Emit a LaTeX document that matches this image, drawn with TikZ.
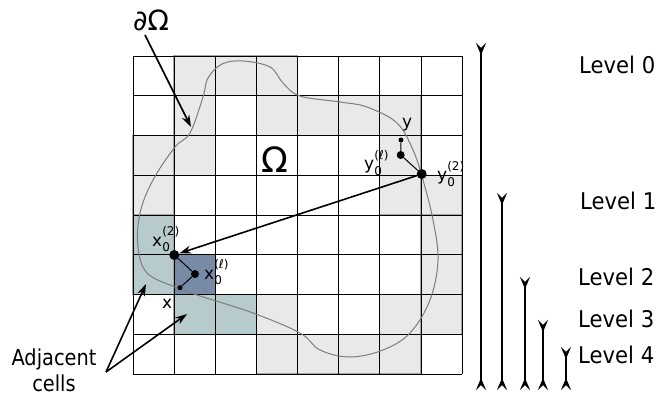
\documentclass[tikz,border=0pt]{standalone}
\usepackage{fontspec}
\setmainfont{DejaVu Sans}
\newfontfamily\condf{DejaVu Sans}[FakeStretch=0.92]
\newfontfamily\condg{DejaVu Sans}[FakeStretch=0.88]
\usetikzlibrary{arrows.meta}
\definecolor{cellgray}{RGB}{233,233,233}
\definecolor{cellborder}{RGB}{165,165,165}
\definecolor{adjcell}{RGB}{183,203,204}
\definecolor{curcell}{RGB}{120,139,166}
\definecolor{curvecol}{RGB}{125,125,125}
\newcommand\xsubsup[3]{#1\rlap{\raisebox{-0.33em}{\fontsize{12}{12}\selectfont #2}}\raisebox{0.6em}{\fontsize{12}{12}\selectfont #3}}
\tikzset{
  gridline/.style={black, line width=0.7pt},
  graycell/.style={fill=cellgray, draw=cellborder, line width=1.3pt},
  adjbox/.style={fill=adjcell, draw=cellborder, line width=1.3pt},
  curbox/.style={fill=curcell, draw=cellborder, line width=1.3pt},
  bigdot/.style={circle, fill=black, inner sep=0pt, minimum size=10pt},
  middot/.style={circle, fill=black, inner sep=0pt, minimum size=8pt},
  smalldot/.style={circle, fill=black, inner sep=0pt, minimum size=5pt},
  thinlink/.style={black, line width=1pt},
  pointer/.style={black, line width=1.6pt, -{Stealth[length=12pt,width=8pt,inset=4pt]}},
  levelbar/.style={black, line width=1.6pt, {Stealth[reversed,length=12pt,width=10pt,inset=5pt]}-{Stealth[reversed,length=12pt,width=10pt,inset=5pt]}},
  levellbl/.style={anchor=base west, inner sep=0pt, font=\condf\fontsize{23}{25}\selectfont},
  ptlbl/.style={anchor=base west, inner sep=0pt, font=\fontsize{17}{18}\selectfont},
}
\begin{document}
\begin{tikzpicture}[x=1pt,y=-1pt]
\useasboundingbox (0,0) rectangle (657,396);
% shaded cells
\foreach \c/\r in {1/0,2/0,3/0,1/1,3/1,4/1,5/1,6/1,0/2,1/2,6/2,0/3,6/3,7/3,7/4,7/5,3/6,6/6,7/6,3/7,4/7,5/7,6/7}
  \draw[graycell] ({133+41.125*\c},{56+39.75*\r}) rectangle ++(41.125,39.75);
\foreach \c/\r in {0/4,0/5,1/6,2/6}
  \draw[adjbox] ({133+41.125*\c},{56+39.75*\r}) rectangle ++(41.125,39.75);
\draw[curbox] ({133+41.125},{56+39.75*5}) rectangle ++(41.125,39.75);
% grid
\foreach \i in {0,...,8} {
  \draw[gridline] ({133+41.125*\i},56) -- ({133+41.125*\i},374);
  \draw[gridline] (133,{56+39.75*\i}) -- (462,{56+39.75*\i});
}
% boundary curve
\draw[curvecol, line width=1pt] plot[smooth cycle, tension=0.6] coordinates {
(243,61) (270,67) (283,83) (300,96) (340,102) (367,107) (397,123) (413,150)
(423,180) (433,220) (438,260) (430,300) (410,333) (383,350) (350,357) (320,350)
(300,333) (253,313) (197,295) (175,287) (147,273) (138,247) (140,213) (153,180)
(175,147) (190,133) (203,97) (208,78) (222,64)};
% labels
\node[inner sep=0pt, font=\fontsize{28}{30}\selectfont] (dOmega) at (151,20) {∂Ω};
\node[inner sep=0pt, font=\fontsize{35}{37}\selectfont] (Omega) at (275,160) {Ω};
% points
\node[bigdot] (x02) at (174.3,255) {};
\node[middot] (x0l) at (195,274) {};
\node[smalldot] (xp) at (180,287.7) {};
\node[smalldot] (yp) at (401,140) {};
\node[middot] (y0l) at (400.7,155) {};
\node[bigdot] (y02) at (421.7,174) {};
\draw[thinlink] (xp) -- (x0l) -- (x02);
\draw[thinlink] (yp) -- (y0l) -- (y02);
\draw[pointer] (y02) -- (x02);
\node[ptlbl] (xlbl) at (162,308) {x};
\node[ptlbl] (x02lbl) at (152,246) {\xsubsup{x}{0}{(2)}};
\node[ptlbl] (x0llbl) at (204,279) {\xsubsup{x}{0}{(ℓ)}};
\node[ptlbl] (ylbl) at (402,128) {y};
\node[ptlbl] (y0llbl) at (364,170) {\xsubsup{y}{0}{(ℓ)}};
\node[ptlbl] (y02lbl) at (437,181) {\xsubsup{y}{0}{(2)}};
% pointer arrows
\coordinate (dfrom) at (145,35);
\coordinate (dtip) at (191,127);
\draw[pointer] (dfrom) -- (dtip);
\node[align=center, inner sep=0pt, font=\condg\fontsize{22}{26}\selectfont, anchor=base] (adj) at (54,391) {Adjacent\\cells};
\coordinate (afrom) at (106,372);
\coordinate (atip1) at (146,284);
\coordinate (atip2) at (187,314);
\draw[pointer] (afrom) -- (atip1);
\draw[pointer] (afrom) -- (atip2);
% level bars
\coordinate (l0t) at (481,43);  \coordinate (l0b) at (481,390);
\coordinate (l1t) at (502,193); \coordinate (l1b) at (502,390);
\coordinate (l2t) at (525,277); \coordinate (l2b) at (525,390);
\coordinate (l3t) at (543,320); \coordinate (l3b) at (543,390);
\coordinate (l4t) at (566,347); \coordinate (l4b) at (566,390);
\draw[levelbar] (l0t) -- (l0b);
\draw[levelbar] (l1t) -- (l1b);
\draw[levelbar] (l2t) -- (l2b);
\draw[levelbar] (l3t) -- (l3b);
\draw[levelbar] (l4t) -- (l4b);
\node[levellbl] (lv0) at (579,74) {Level 0};
\node[levellbl] (lv1) at (580,209) {Level 1};
\node[levellbl] (lv2) at (578,285) {Level 2};
\node[levellbl] (lv3) at (578,327) {Level 3};
\node[levellbl] (lv4) at (578,363) {Level 4};
\end{tikzpicture}
\end{document}
